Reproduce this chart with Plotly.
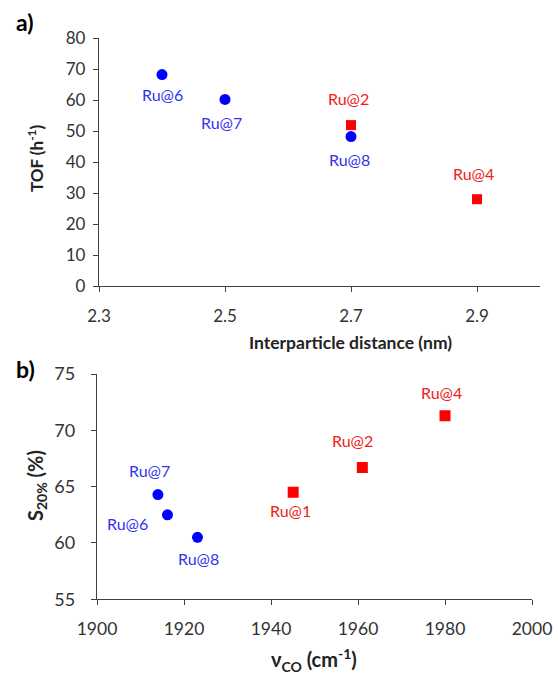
import plotly.graph_objects as go

PAGE_W, PAGE_H = 558, 675
W, H = PAGE_W, PAGE_H

# ---- data panel a ----
a_blue_labels = ["Ru@6", "Ru@7", "Ru@8"]
a_blue_x = [2.4, 2.5, 2.7]
a_blue_y = [68.2, 60.2, 48.2]
a_red_labels = ["Ru@2", "Ru@4"]
a_red_x = [2.7, 2.9]
a_red_y = [51.9, 28.0]

# ---- data panel b ----
b_blue_labels = ["Ru@7", "Ru@6", "Ru@8"]
b_blue_x = [1914, 1916.2, 1923.1]
b_blue_y = [64.3, 62.5, 60.5]
b_red_labels = ["Ru@1", "Ru@2", "Ru@4"]
b_red_x = [1945.1, 1961, 1980]
b_red_y = [64.5, 66.7, 71.3]

# label offsets in px (dx, dy-up)
a_blue_off = [(0, -20), (-4, -23), (-2, -23)]
a_red_off = [(-3, 27), (-4, 26)]
b_blue_off = [(-8, 24), (-40, -9), (1, -21)]
b_red_off = [(-3, -18), (-10, 27), (-4, 23)]

BLUE = "#0000FF"
RED = "#FF0000"
BLUE_TXT = "#3333EE"
RED_TXT = "#F02020"
AX = "#404040"
FONT = "Lato"

fig = go.Figure()
fig.add_trace(go.Scatter(x=a_blue_x, y=a_blue_y, mode="markers", xaxis="x", yaxis="y",
                         marker=dict(symbol="circle", size=11, color=BLUE), showlegend=False))
fig.add_trace(go.Scatter(x=a_red_x, y=a_red_y, mode="markers", xaxis="x", yaxis="y",
                         marker=dict(symbol="square", size=10, color=RED), showlegend=False))
fig.add_trace(go.Scatter(x=b_blue_x, y=b_blue_y, mode="markers", xaxis="x2", yaxis="y2",
                         marker=dict(symbol="circle", size=11, color=BLUE), showlegend=False))
fig.add_trace(go.Scatter(x=b_red_x, y=b_red_y, mode="markers", xaxis="x2", yaxis="y2",
                         marker=dict(symbol="square", size=11, color=RED), showlegend=False))

annots = []
def add_labels(labels, xs, ys, offs, color, xref, yref):
    for t, x, y, (dx, dy) in zip(labels, xs, ys, offs):
        annots.append(dict(x=x, y=y, xref=xref, yref=yref, text=t, showarrow=False,
                           xshift=dx, yshift=dy, font=dict(family=FONT, size=16, color=color)))

add_labels(a_blue_labels, a_blue_x, a_blue_y, a_blue_off, BLUE_TXT, "x", "y")
add_labels(a_red_labels, a_red_x, a_red_y, a_red_off, RED_TXT, "x", "y")
add_labels(b_blue_labels, b_blue_x, b_blue_y, b_blue_off, BLUE_TXT, "x2", "y2")
add_labels(b_red_labels, b_red_x, b_red_y, b_red_off, RED_TXT, "x2", "y2")

def fx(x):
    return x / W

def fy(y):
    return 1 - y / H

def paper_text(text, x, y, size, angle=0, color="#000000"):
    annots.append(dict(x=fx(x), y=fy(y), xref="paper", yref="paper", text=text, showarrow=False,
                       textangle=angle, xanchor="center", yanchor="middle",
                       font=dict(family=FONT, size=size, color=color)))

paper_text("<b>a)</b>", 25, 22, 23)
paper_text("<b>b)</b>", 25, 369, 23)
paper_text("<b>TOF (h<sup>-1</sup>)</b>", 36, 159, 17, -90, "#222222")
paper_text("<b>Interparticle distance (nm)</b>", 350, 342, 17.5, 0, "#222222")
paper_text("<b>S<sub>20%</sub> (%)</b>", 36, 486, 20, -90, "#222222")
paper_text("<b>ν<sub>CO</sub> (cm<sup>-1</sup>)</b>", 314, 660, 20, 0, "#222222")

axis_common = dict(showgrid=False, zeroline=False, showline=True, linecolor=AX, linewidth=1.3,
                   ticks="outside", ticklen=5, tickcolor=AX, tickwidth=1.3, automargin=False,
                   tickfont=dict(family=FONT, size=17, color="#333333"))

fig.update_layout(
    width=W, height=H,
    margin=dict(l=0, r=0, t=0, b=0),
    paper_bgcolor="white", plot_bgcolor="white",
    showlegend=False,
    xaxis=dict(axis_common, domain=[fx(99), fx(540)], range=[2.3, 3.0], tick0=2.3, dtick=0.2,
               anchor="y", ticklabelstandoff=9, tickformat=".1f"),
    yaxis=dict(axis_common, domain=[fy(286), fy(38)], range=[0, 80], dtick=10,
               anchor="x", ticklabelstandoff=4),
    xaxis2=dict(axis_common, domain=[fx(97), fx(532)], range=[1900, 2000], dtick=20,
                anchor="y2", ticklabelstandoff=9, tickfont=dict(family=FONT, size=17.5, color="#333333")),
    yaxis2=dict(axis_common, domain=[fy(599.3), fy(374)], range=[55, 75], dtick=5,
                anchor="x2", ticklabelstandoff=12, tickfont=dict(family=FONT, size=18, color="#333333")),
    annotations=annots,
)

fig.write_html("out.html", config={"displayModeBar": False},
               post_script="document.body.style.margin='0';document.documentElement.style.overflow='hidden';")
